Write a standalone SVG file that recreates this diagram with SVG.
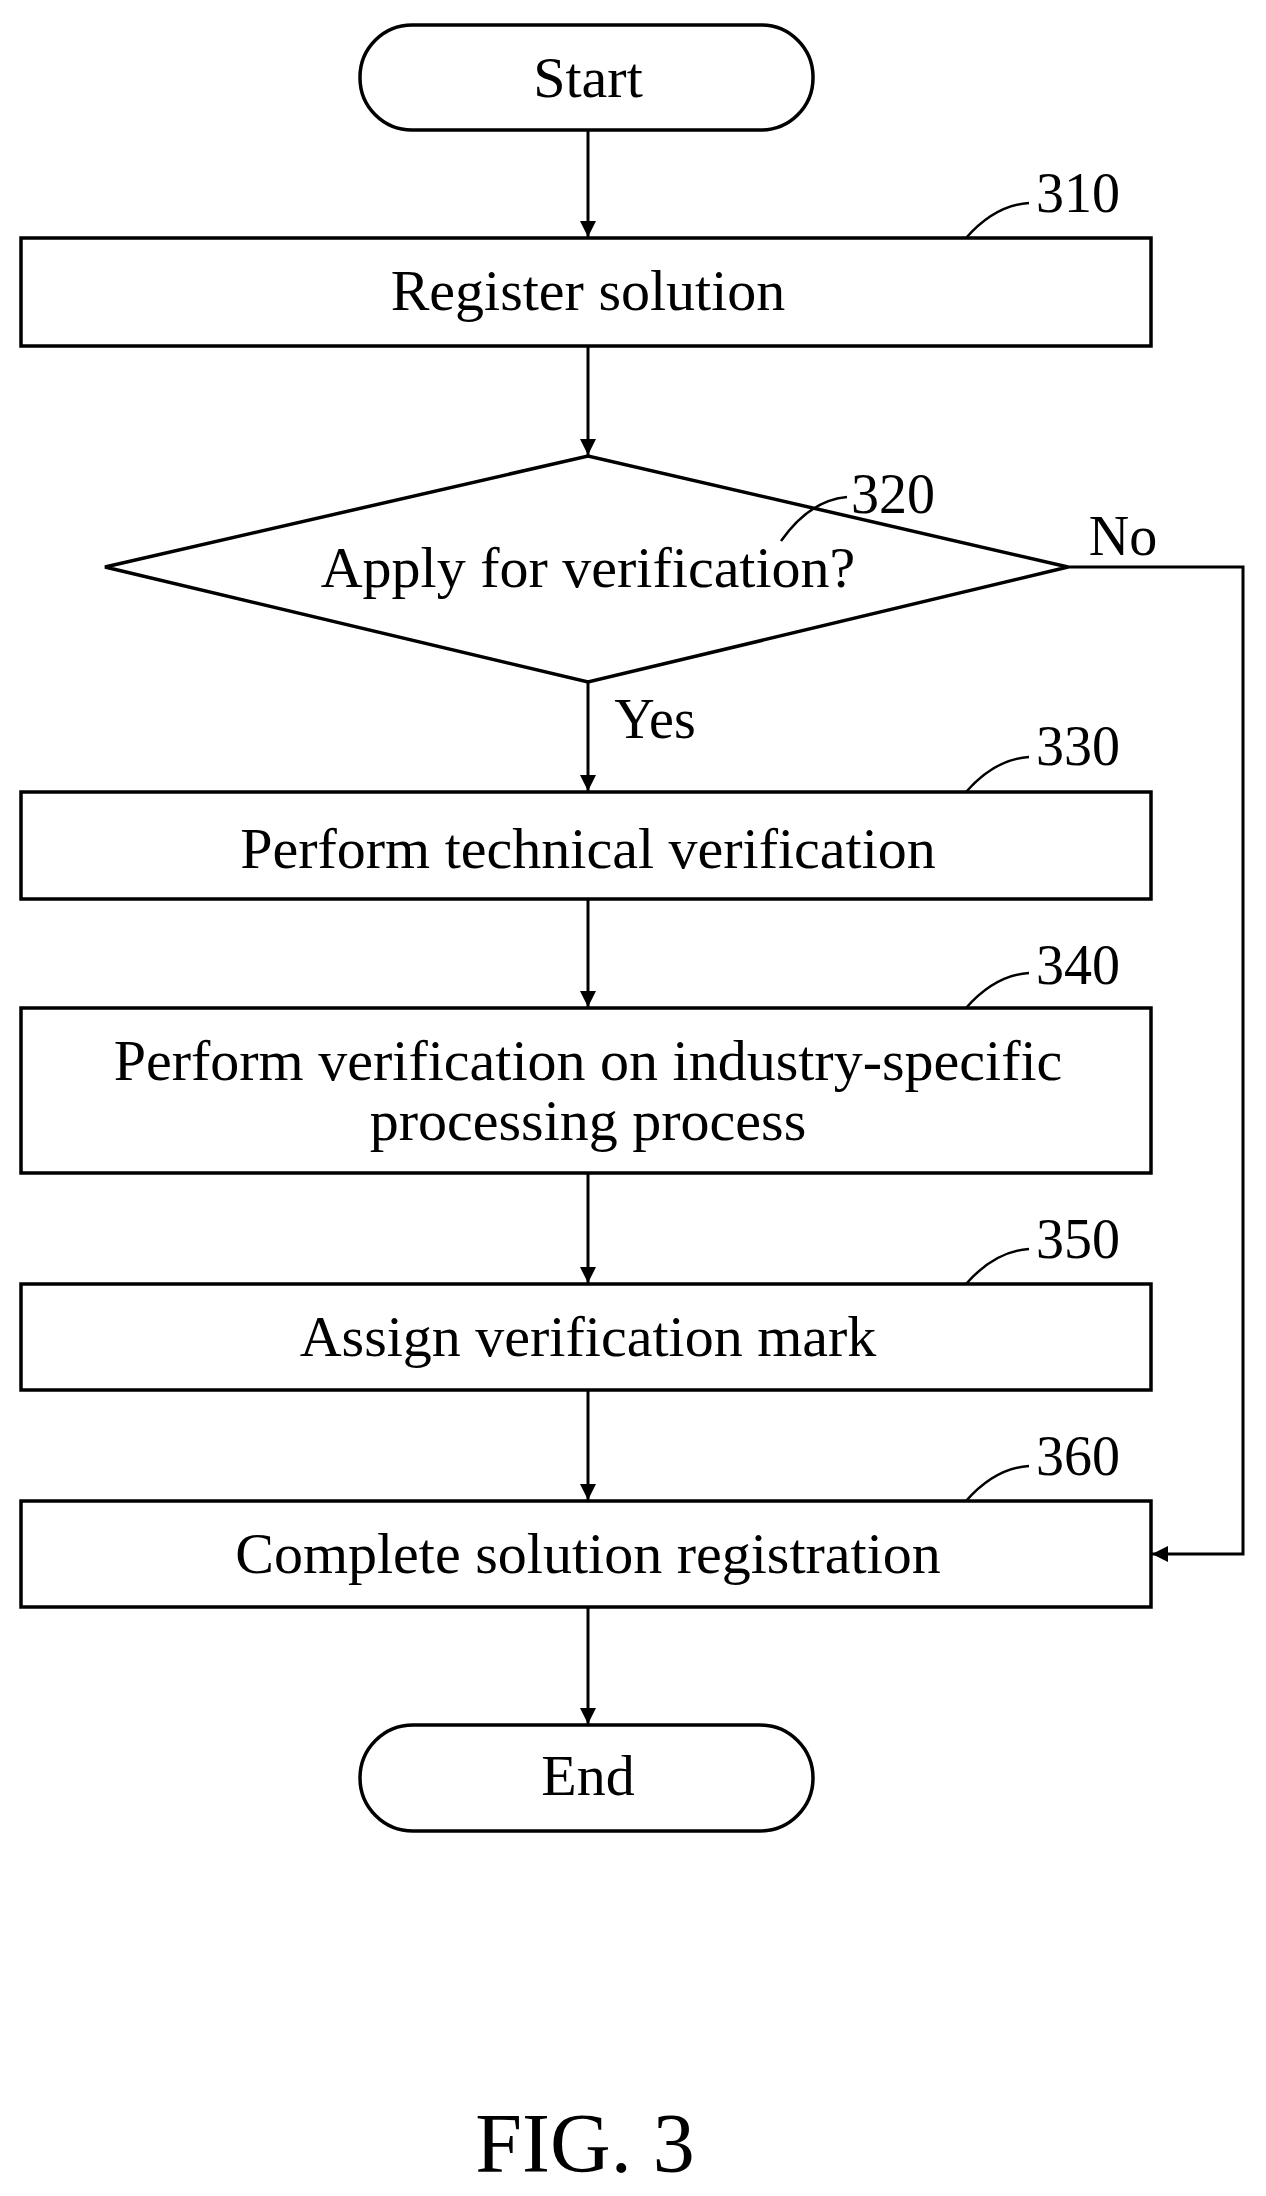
<svg xmlns="http://www.w3.org/2000/svg" width="1266" height="2196" viewBox="0 0 1266 2196">
<style>
.s{fill:#fff;stroke:#000;stroke-width:3.5}
.t{font-family:"Liberation Serif",serif;font-size:58px;text-anchor:middle;fill:#000}
.n{font-family:"Liberation Serif",serif;font-size:56px;text-anchor:middle;fill:#000}
.c{fill:none;stroke:#000;stroke-width:3}
.l{fill:none;stroke:#000;stroke-width:2.5}
</style>
<defs><marker id="a" markerWidth="16" markerHeight="22" refX="16" refY="8" orient="auto" markerUnits="userSpaceOnUse"><path d="M0,0 L16,8 L0,16 Z" fill="#000"/></marker></defs>
<rect width="1266" height="2196" fill="#fff"/>
<g id="start"><rect class="s" x="360" y="25" width="453" height="105" rx="52"/><text class="t" x="588" y="97">Start</text></g>
<g id="n310"><rect class="s" x="21" y="238" width="1130" height="108"/><text class="t" x="588" y="310">Register solution</text><path class="l" d="M966,238 Q995,205 1029,203"/><text class="n" x="1078" y="212">310</text></g>
<g id="n320"><polygon class="s" points="105,567 588,456 1068,567 588,682"/><text class="t" x="588" y="587">Apply for verification?</text><path class="l" d="M781,541 Q810,500 847,497"/><text class="n" x="893" y="513">320</text></g>
<g id="n330"><rect class="s" x="21" y="792" width="1130" height="107"/><text class="t" x="588" y="868">Perform technical verification</text><path class="l" d="M966,792 Q995,759 1029,757"/><text class="n" x="1078" y="765">330</text></g>
<g id="n340"><rect class="s" x="21" y="1008" width="1130" height="165"/><text class="t" x="588" y="1080">Perform verification on industry-specific</text><text class="t" x="588" y="1140">processing process</text><path class="l" d="M966,1008 Q995,975 1029,973"/><text class="n" x="1078" y="984">340</text></g>
<g id="n350"><rect class="s" x="21" y="1284" width="1130" height="106"/><text class="t" x="588" y="1356">Assign verification mark</text><path class="l" d="M966,1284 Q995,1251 1029,1249"/><text class="n" x="1078" y="1258">350</text></g>
<g id="n360"><rect class="s" x="21" y="1501" width="1130" height="106"/><text class="t" x="588" y="1573">Complete solution registration</text><path class="l" d="M966,1501 Q995,1468 1029,1466"/><text class="n" x="1078" y="1475">360</text></g>
<g id="end"><rect class="s" x="360" y="1725" width="453" height="106" rx="53"/><text class="t" x="588" y="1795">End</text></g>
<g id="connectors">
<path class="c" d="M588,130 V237" marker-end="url(#a)"/>
<path class="c" d="M588,346 V455" marker-end="url(#a)"/>
<path class="c" d="M588,682 V791" marker-end="url(#a)"/>
<path class="c" d="M588,899 V1007" marker-end="url(#a)"/>
<path class="c" d="M588,1173 V1283" marker-end="url(#a)"/>
<path class="c" d="M588,1390 V1500" marker-end="url(#a)"/>
<path class="c" d="M588,1607 V1724" marker-end="url(#a)"/>
<path class="c" d="M1068,567 H1243 V1554 H1152" marker-end="url(#a)"/>
<text class="n" x="1123" y="555">No</text>
<text class="n" x="655" y="738">Yes</text>
</g>
<text class="t" x="585" y="2172" style="font-size:84px">FIG. 3</text>
</svg>
